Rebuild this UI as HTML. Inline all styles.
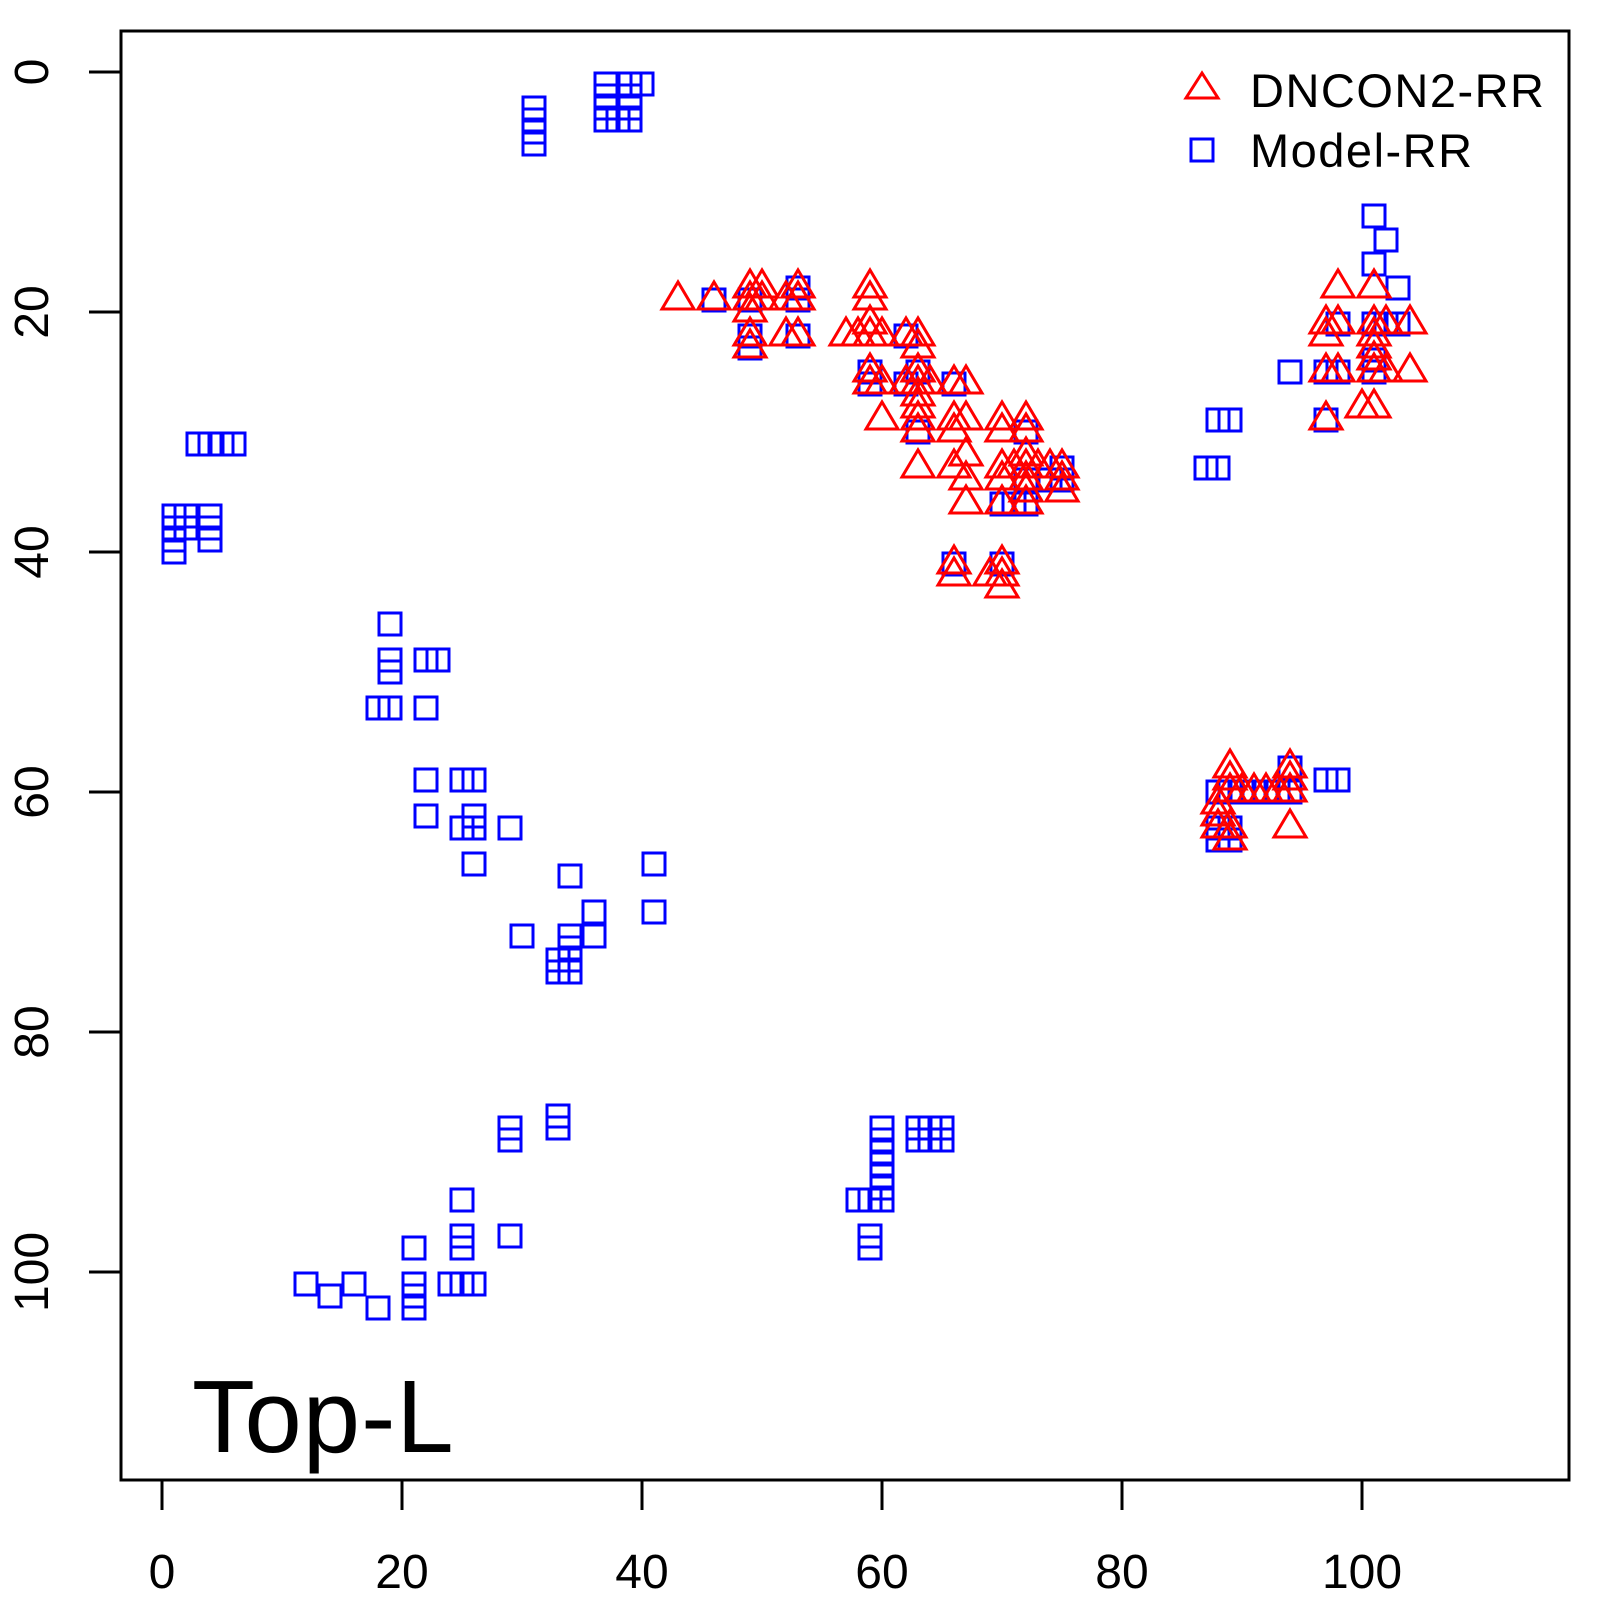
<!DOCTYPE html>
<html><head><meta charset="utf-8"><style>
html,body{margin:0;padding:0;background:#fff;}
svg{display:block;}
text{font-family:"Liberation Sans",sans-serif;fill:#000;}
</style></head><body>
<svg id="s" width="1600" height="1600" viewBox="0 0 1600 1600" xmlns="http://www.w3.org/2000/svg">
<rect x="121" y="31" width="1448" height="1449" fill="none" stroke="#000" stroke-width="3"/>
<g stroke="#000" stroke-width="3">
<line x1="162" y1="1480" x2="162" y2="1510"/><line x1="402" y1="1480" x2="402" y2="1510"/><line x1="642" y1="1480" x2="642" y2="1510"/><line x1="882" y1="1480" x2="882" y2="1510"/><line x1="1122" y1="1480" x2="1122" y2="1510"/><line x1="1362" y1="1480" x2="1362" y2="1510"/>
<line x1="162" y1="1480" x2="1362" y2="1480"/>
<line x1="89" y1="72" x2="121" y2="72"/><line x1="89" y1="312" x2="121" y2="312"/><line x1="89" y1="552" x2="121" y2="552"/><line x1="89" y1="792" x2="121" y2="792"/><line x1="89" y1="1032" x2="121" y2="1032"/><line x1="89" y1="1272" x2="121" y2="1272"/>
</g>
<g font-size="48" text-anchor="middle">
<text x="162" y="1588">0</text><text x="402" y="1588">20</text><text x="642" y="1588">40</text><text x="882" y="1588">60</text><text x="1122" y="1588">80</text><text x="1362" y="1588">100</text>
<text transform="translate(48,72) rotate(-90)">0</text>
<text transform="translate(48,312) rotate(-90)">20</text>
<text transform="translate(48,552) rotate(-90)">40</text>
<text transform="translate(48,792) rotate(-90)">60</text>
<text transform="translate(48,1032) rotate(-90)">80</text>
<text transform="translate(48,1272) rotate(-90)">100</text>
</g>
<text x="192" y="1452" font-size="103" letter-spacing="1">Top-L</text>
<polygon points="1186,98 1218,98 1202,73" fill="none" stroke="#f00" stroke-width="3"/>
<rect x="1191" y="139" width="22" height="22" fill="none" stroke="#00f" stroke-width="3"/>
<text x="1250" y="107" font-size="47" letter-spacing="1.5">DNCON2-RR</text>
<text x="1250" y="167" font-size="47" letter-spacing="1.5">Model-RR</text>
<g id="sq" fill="none" stroke="#00f" stroke-width="3"></g>
<g id="tr" fill="none" stroke="#f00" stroke-width="3"></g>
</svg>
<script>
var S=[[31,3],[31,4],[31,5],[31,6],[37,1],[37,2],[37,3],[37,4],[38,4],[39,1],[39,2],[39,3],[39,4],[40,1],
[3,31],[4,31],[5,31],[6,31],[1,37],[2,37],[4,37],[1,38],[2,38],[4,38],[1,39],[4,39],[1,40],
[19,46],[19,49],[19,50],[18,53],[19,53],[22,49],[23,49],[22,53],[22,59],[22,62],[25,59],[26,59],[25,63],[26,62],[26,63],[26,66],[29,63],[30,72],[34,67],[36,70],[36,72],[34,72],[33,74],[34,74],[33,75],[34,75],[34,73],[41,66],[41,70],
[29,88],[29,89],[33,87],[33,88],[25,94],[25,97],[25,98],[29,97],[21,98],[21,101],[21,102],[21,103],[24,101],[25,101],[26,101],[12,101],[14,102],[16,101],[18,103],
[60,88],[60,89],[60,90],[60,91],[60,92],[60,93],[60,94],[59,94],[58,94],[59,97],[59,98],[63,88],[64,88],[65,88],[63,89],[64,89],[65,89],
[101,12],[102,14],[101,16],[103,18],[98,21],[101,21],[102,21],[103,21],[97,25],[98,25],[94,25],[101,24],[101,25],[97,29],[88,29],[89,29],[87,33],[88,33],[98,59],[97,59],[94,58],[88,60],[89,60],[90,60],[91,60],[92,60],[93,60],[94,60],[88,63],[89,63],[88,64],[89,64],
[46,19],[49,19],[49,22],[49,23],[53,18],[53,19],[53,22],[59,25],[59,26],[62,22],[62,26],[63,25],[66,26],[63,30],[66,41],[70,41],[70,36],[72,36],[72,30],[72,34],[75,33],[75,34],[74,34],[71,36]];
var T=[[43,19],[46,19],[49,18],[49,19],[49,20],[50,18],[50,19],[49,22],[49,23],[52,19],[53,18],[53,19],[52,22],[53,22],[59,18],[59,19],[59,21],[59,22],[57,22],[58,22],[60,22],[62,22],[63,22],[63,23],[59,25],[59,26],[60,26],[62,26],[63,25],[63,26],[63,27],[63,28],[63,29],[63,30],[64,26],[60,29],[63,33],[66,26],[67,26],[66,29],[67,29],[66,30],[66,33],[67,32],[67,34],[67,36],[70,29],[70,30],[72,29],[72,30],[70,33],[70,34],[71,33],[72,32],[72,33],[72,34],[72,35],[72,36],[70,36],[73,33],[74,33],[75,33],[75,34],[75,35],[66,41],[66,42],[70,41],[70,42],[70,43],[69,42],
[98,18],[101,18],[97,21],[98,21],[101,21],[102,21],[104,21],[97,22],[101,22],[101,23],[97,25],[98,25],[101,24],[101,25],[102,25],[104,25],[100,28],[101,28],[97,29],
[89,58],[89,59],[89,60],[88,61],[88,62],[88,63],[89,63],[89,64],[90,60],[91,60],[92,60],[93,60],[94,58],[94,59],[94,60],[94,63]];
var ns="http://www.w3.org/2000/svg",g1=document.getElementById("sq"),g2=document.getElementById("tr");
S.forEach(function(p){var x=162+12*p[0],y=72+12*p[1];var r=document.createElementNS(ns,"rect");r.setAttribute("x",x-11);r.setAttribute("y",y-11);r.setAttribute("width",22);r.setAttribute("height",22);g1.appendChild(r);});
T.forEach(function(p){var x=162+12*p[0],y=72+12*p[1];var t=document.createElementNS(ns,"polygon");t.setAttribute("points",(x-16)+","+(y+9)+" "+(x+16)+","+(y+9)+" "+x+","+(y-18));g2.appendChild(t);});
</script>
</body></html>
